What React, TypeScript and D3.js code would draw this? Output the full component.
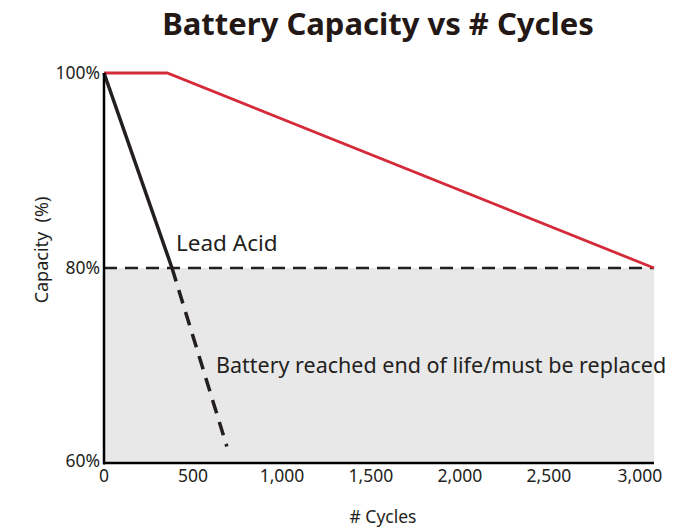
import React from "react";
import * as d3 from "d3";

const title = "Battery Capacity vs # Cycles";
const xTicks = [0, 500, 1000, 1500, 2000, 2500, 3000];
const yTicks = [60, 80, 100];
const lithium = [
  { c: 0, v: 100 },
  { c: 355, v: 100 },
  { c: 3090, v: 80 },
];
const leadSolid = [
  { c: 0, v: 100 },
  { c: 382, v: 80 },
];
const leadDashed = [
  { c: 382, v: 80 },
  { c: 690, v: 61.7 },
];
const threshold = 80;
const xMax = 3090;

const W = 696;
const H = 532;
const FONT = "'Noto Sans', sans-serif";

export default function App() {
  const x = d3.scaleLinear().domain([0, xMax]).range([104, 654]);
  const y = d3.scaleLinear().domain([60, 100]).range([463, 73]);
  const line = d3
    .line<{ c: number; v: number }>()
    .x((d) => x(d.c))
    .y((d) => y(d.v));
  const fmt = d3.format(",");
  const dark = "#231f20";

  return (
    <svg width={W} height={H} style={{ position: "absolute", left: 0, top: 0, background: "#fff" }} fontFamily={FONT}>
      <rect x={x(0)} y={y(threshold)} width={x(xMax) - x(0)} height={y(60) - y(threshold)} fill="#e8e8e8" />
      <text x={378} y={35} textAnchor="middle" fontSize={31} fontWeight={700} fill="#231815">
        {title}
      </text>
      <line x1={x(0)} x2={x(xMax)} y1={y(threshold)} y2={y(threshold)} stroke={dark} strokeWidth={2.5} strokeDasharray="13,8" />
      <path d={line(lithium)!} fill="none" stroke="#d42a3a" strokeWidth={2.8} />
      <path d={line(leadSolid)!} fill="none" stroke={dark} strokeWidth={3.5} />
      <path d={line(leadDashed)!} fill="none" stroke={dark} strokeWidth={3.5} strokeDasharray="14,9" />
      <line x1={x(0)} x2={x(0)} y1={y(100)} y2={y(60) + 1.5} stroke="#000" strokeWidth={2.5} />
      <line x1={x(0)} x2={x(xMax)} y1={y(60)} y2={y(60)} stroke="#000" strokeWidth={2.5} />
      {yTicks.map((t) => (
        <text key={t} x={100} y={y(t) + (t === 60 ? 4 : 6)} textAnchor="end" fontSize={17.5} fill={dark}>
          {t}%
        </text>
      ))}
      {xTicks.map((t) => (
        <text key={t} x={x(t) + (t === 3000 ? 2 : 0)} y={482} textAnchor="middle" fontSize={17.5} fill={dark}>
          {fmt(t)}
        </text>
      ))}
      <text x={383} y={523} textAnchor="middle" fontSize={17.5} fill={dark}>
        # Cycles
      </text>
      <text transform="translate(48,250) rotate(-90)" textAnchor="middle" fontSize={18} fill={dark} style={{ whiteSpace: "pre" }}>
        {"Capacity  (%)"}
      </text>
      <text x={176} y={251} fontSize={22.5} fill={dark}>
        Lead Acid
      </text>
      <text x={216} y={373} fontSize={21.5} fill={dark}>
        Battery reached end of life/must be replaced
      </text>
    </svg>
  );
}
